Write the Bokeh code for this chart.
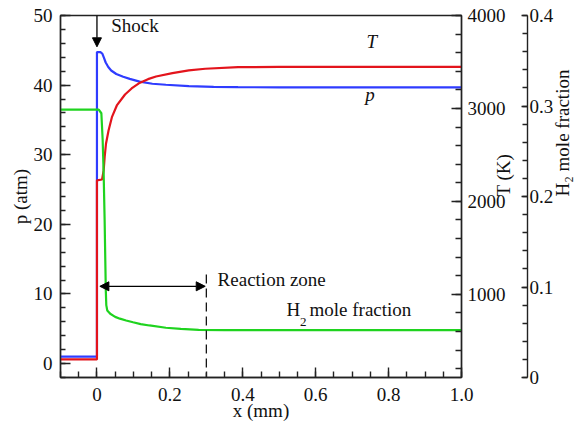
import math
from bokeh.plotting import figure
from bokeh.models import (Range1d, LinearAxis, Label, Arrow, NormalHead,
                          SingleIntervalTicker, BasicTickFormatter)
from bokeh.embed import file_html
from bokeh.resources import INLINE

# ---- profiles behind the shock front (x in mm) ----
x_p = [-0.1, 0.0, 0.0, 0.0095, 0.015, 0.019, 0.024, 0.031, 0.039, 0.053, 0.072,
       0.09, 0.117, 0.152, 0.189, 0.252, 0.32, 0.387, 0.5, 0.7, 1.0]
p_atm = [1.0, 1.0, 44.75, 44.75, 44.5, 43.95, 43.25, 42.6, 42.1, 41.6, 41.2,
         40.9, 40.5, 40.2, 40.05, 39.85, 39.75, 39.7, 39.68, 39.68, 39.68]

x_T = [-0.1, 0.0, 0.0, 0.014, 0.0184, 0.0211, 0.0248, 0.0318, 0.041, 0.0545,
       0.077, 0.095, 0.115, 0.14, 0.162, 0.207, 0.252, 0.297, 0.387, 0.5, 0.7, 1.0]
T_K = [300, 300, 2226, 2235, 2333, 2476, 2620, 2763, 2906, 3032,
       3150, 3215, 3270, 3315, 3344, 3380, 3409, 3427, 3444, 3447, 3448, 3448]

x_h2 = [-0.1, 0.0049, 0.0121, 0.0157, 0.0184, 0.0211, 0.0229, 0.0243, 0.0256,
        0.0283, 0.0364, 0.05, 0.063, 0.08, 0.099, 0.12, 0.144, 0.189, 0.23,
        0.279, 0.35, 0.5, 0.7, 1.0]
h2_frac = [0.296, 0.296, 0.292, 0.262, 0.225, 0.173, 0.129, 0.096, 0.080,
           0.074, 0.0704, 0.067, 0.065, 0.063, 0.061, 0.059, 0.0575, 0.055, 0.0538,
           0.0527, 0.0524, 0.0524, 0.0524, 0.0524]

# tick label text that differs from the default formatting
x_tick_overrides = {0: "0", 1: "1.0"}
h2_tick_overrides = {0: "0"}

# annotation positions (data units)
SHOCK_X = 0.0
REACTION_ZONE_END = 0.3
ZONE_ARROW_P = 11.1

FONT = "Liberation Serif"
FS = "19px"
AX = "#222222"
TXT = "#111111"
RED = "#e3141c"
BLUE = "#2f3cff"
GREEN = "#1fd31f"

p = figure(width=586, height=431, x_range=Range1d(-0.1, 1.0), y_range=Range1d(-2, 50),
           output_backend="svg", toolbar_location=None,
           min_border_left=60, min_border_right=119, min_border_top=15, min_border_bottom=54)
p.grid.visible = False
p.outline_line_color = AX
p.outline_line_width = 1.4
p.background_fill_color = "white"
p.border_fill_color = "white"

p.extra_y_ranges = {"T": Range1d(105, 4000), "h2": Range1d(0, 0.4)}


def style_axis(ax, major_in, minor_in, standoff, label, label_standoff):
    ax.major_tick_in = major_in
    ax.major_tick_out = 0
    ax.minor_tick_in = minor_in
    ax.minor_tick_out = 0
    ax.axis_line_color = AX
    ax.axis_line_width = 1.4
    ax.major_tick_line_color = AX
    ax.major_tick_line_width = 1.4
    ax.minor_tick_line_color = AX
    ax.minor_tick_line_width = 1.4
    ax.major_label_text_font = FONT
    ax.major_label_text_font_size = FS
    ax.major_label_text_color = TXT
    ax.major_label_standoff = standoff
    ax.axis_label = label
    ax.axis_label_text_font = FONT
    ax.axis_label_text_font_size = FS
    ax.axis_label_text_font_style = "normal"
    ax.axis_label_text_color = TXT
    ax.axis_label_standoff = label_standoff


xa = p.xaxis[0]
xa.ticker = SingleIntervalTicker(interval=0.2, num_minor_ticks=4)
xa.formatter = BasicTickFormatter(precision=1)
xa.major_label_overrides = x_tick_overrides
style_axis(xa, 10, 6, 10, "x (mm)", -4)

ya = p.yaxis[0]
ya.ticker = SingleIntervalTicker(interval=10, num_minor_ticks=5)
style_axis(ya, 10, 5, 8, "p (atm)", 0)

# right-hand titles read bottom to top
t_axis = LinearAxis(y_range_name="T")
t_axis.ticker = SingleIntervalTicker(interval=1000, num_minor_ticks=5)
style_axis(t_axis, 10, 6, 6, "T (K)", -5)
t_axis.axis_label_orientation = math.pi / 2
p.add_layout(t_axis, "right")

h_axis = LinearAxis(y_range_name="h2")
h_axis.ticker = SingleIntervalTicker(interval=0.1, num_minor_ticks=5)
h_axis.formatter = BasicTickFormatter(precision=1)
h_axis.major_label_overrides = h2_tick_overrides
style_axis(h_axis, 6, 5, 2, "H\u2082 mole fraction", 6)
h_axis.axis_label_orientation = math.pi / 2
p.add_layout(h_axis, "right")

# ---- curves ----
p.line(x_p, p_atm, color=BLUE, line_width=2.2)
p.line(x_T, T_K, color=RED, line_width=2.2, y_range_name="T")
p.line(x_h2, h2_frac, color=GREEN, line_width=2.2, y_range_name="h2")

# ---- annotations ----
head = dict(size=9, fill_color="black", line_color="black")
p.add_layout(Arrow(end=NormalHead(**head), x_start=SHOCK_X, y_start=50,
                   x_end=SHOCK_X, y_end=45.5, line_width=1.3, line_color="black"))
p.add_layout(Arrow(start=NormalHead(**head), end=NormalHead(**head),
                   x_start=0.008, y_start=ZONE_ARROW_P, x_end=REACTION_ZONE_END - 0.003,
                   y_end=ZONE_ARROW_P, line_width=1.3, line_color="black"))
p.segment(x0=[REACTION_ZONE_END], y0=[12.8], x1=[REACTION_ZONE_END], y1=[-2],
          line_dash="9 5", line_color="black", line_width=1.2)


def txt(x, y, s, **kw):
    opts = dict(text_font=FONT, text_font_size=FS, text_color=TXT)
    opts.update(kw)
    p.add_layout(Label(x=x, y=y, text=s, **opts))


txt(0.039, 47.1, "Shock")
txt(0.331, 10.5, "Reaction zone")
txt(0.52, 6.2, "H")
txt(0.557, 5.4, "2", text_font_size="13px")
txt(0.583, 6.2, "mole fraction")
txt(0.754, 44.8, "T", text_font_style="italic", text_align="center")
txt(0.749, 37.1, "p", text_font_style="italic", text_align="center")

open("out.html", "w").write(file_html(p, INLINE))
